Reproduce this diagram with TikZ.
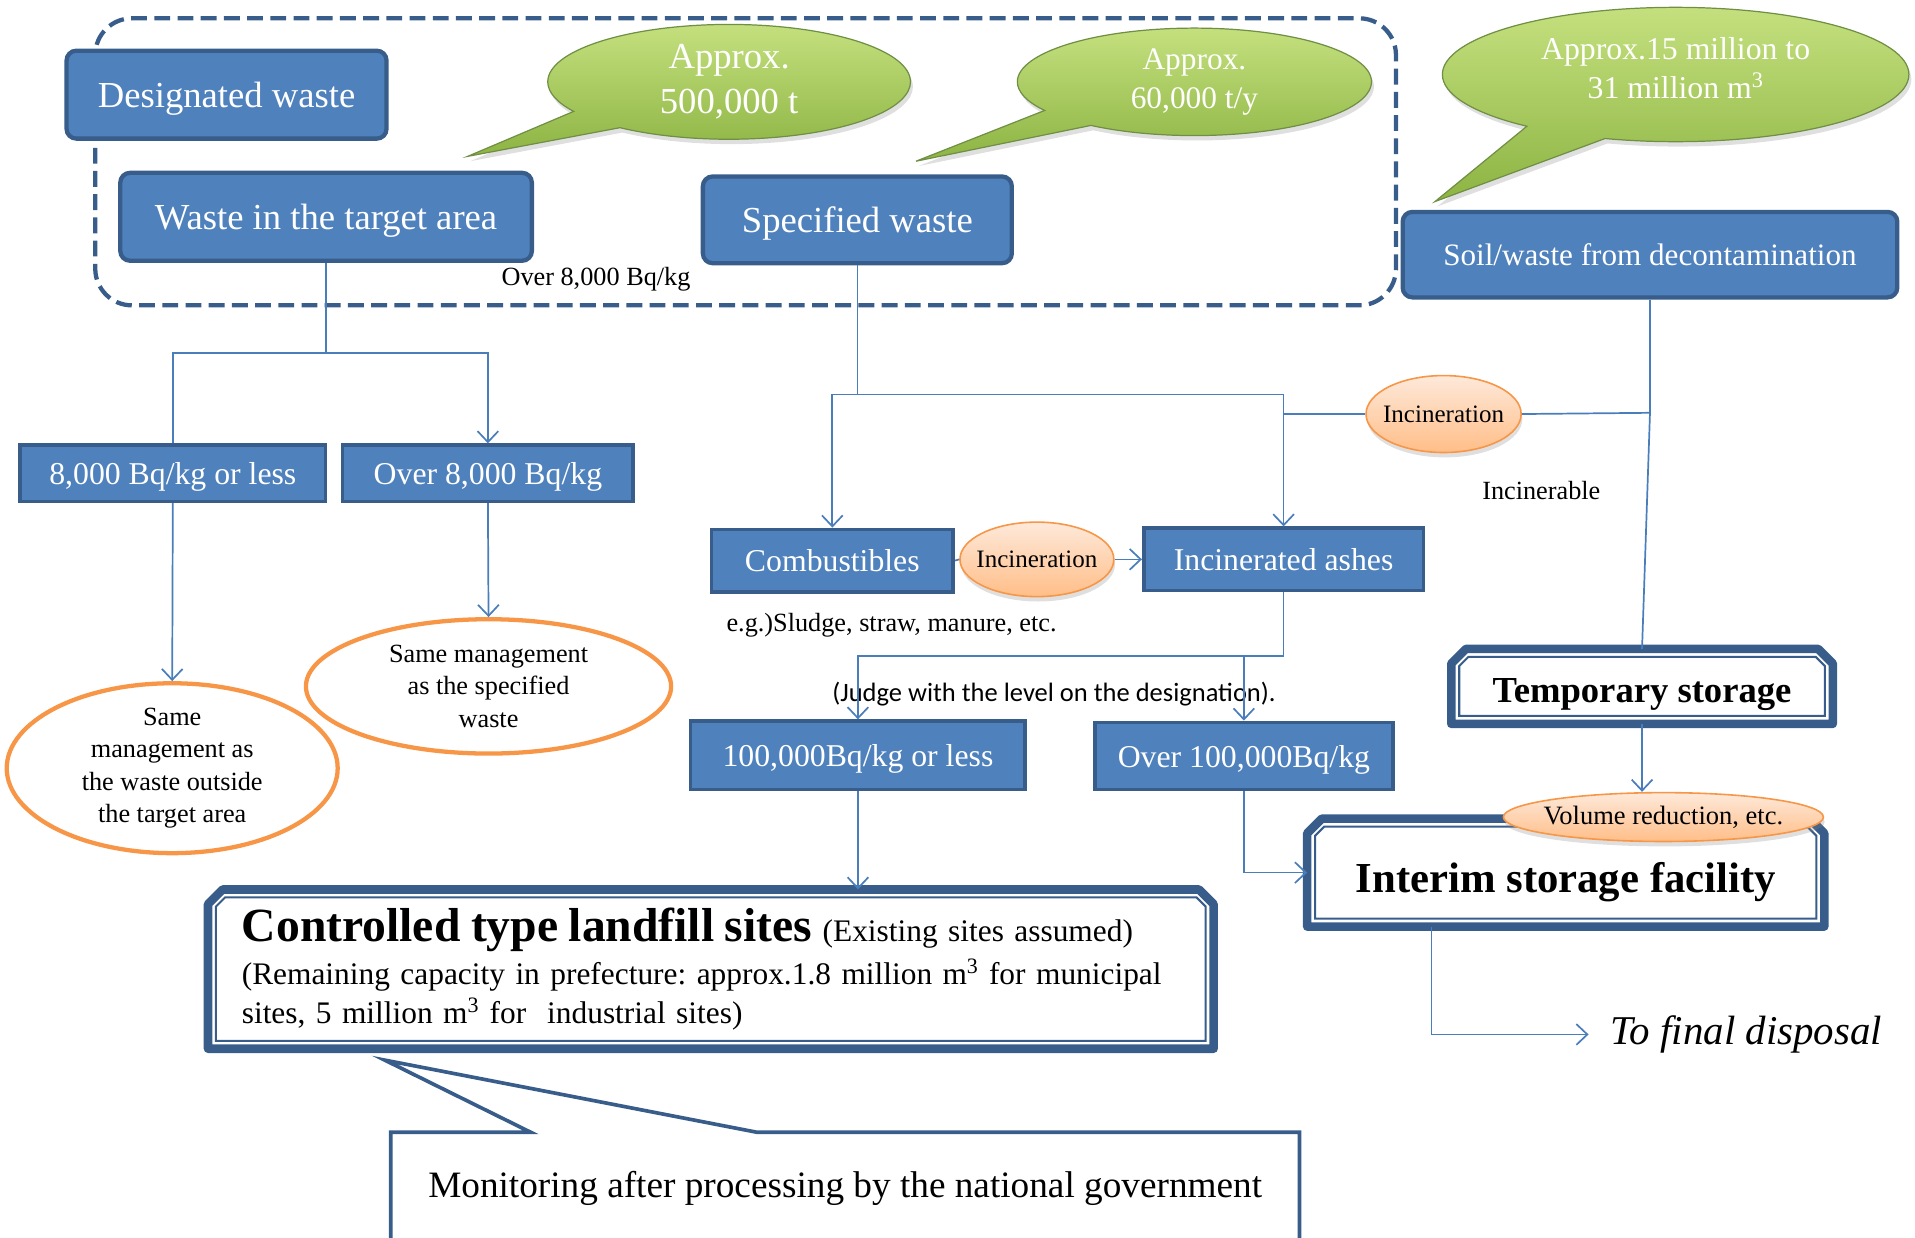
\documentclass[tikz,border=0pt]{standalone}
\usepackage{fontspec}
\setmainfont{Liberation Serif}
\newfontfamily\judgefont{Carlito}
\usetikzlibrary{shapes.geometric, shapes.callouts, arrows.meta, shadows, positioning}

\definecolor{boxfill}{HTML}{4F81BD}
\definecolor{boxline}{HTML}{385D8A}
\definecolor{linkblue}{HTML}{4A7EBB}
\definecolor{careorange}{HTML}{F79646}
\definecolor{peachtop}{HTML}{FEE9DA}
\definecolor{peachbot}{HTML}{FFBE88}
\definecolor{olivetop}{HTML}{C4E07E}
\definecolor{olivebot}{HTML}{8DB443}
\definecolor{oliveline}{HTML}{6F8F45}

\newcommand{\setfs}[2]{\fontsize{#1pt}{#2pt}\selectfont}

\tikzstyle{boxWaste} = [rectangle, rounded corners=8pt, draw=boxline, line width=3.5pt, fill=boxfill, text=white, inner sep=0pt, text depth=0pt, font=\setfs{30}{36}]
\tikzstyle{boxLevel} = [rectangle, draw=boxline, line width=3pt, fill=boxfill, text=white, inner sep=0pt, text depth=0pt, font=\setfs{26}{30}]
\tikzstyle{ovalCare} = [ellipse, draw=careorange, line width=3.5pt, fill=white, align=center, inner sep=0pt, font=\setfs{21.5}{26.5}]
\tikzstyle{ovalProcess} = [ellipse, draw=careorange, line width=1.3pt, top color=peachtop, bottom color=peachbot, inner sep=0pt, inner xsep=-14pt, font=\setfs{20.5}{24}, drop shadow={shadow xshift=1pt, shadow yshift=-4pt, opacity=.25}]
\tikzstyle{bubbleAmount} = [ellipse callout, callout pointer arc=22, draw=oliveline, line width=1pt, top color=olivetop, bottom color=olivebot, text=white, align=center, inner sep=0pt, drop shadow={shadow xshift=2pt, shadow yshift=-4pt, opacity=.25}]
\tikzstyle{boxStore} = [rectangle, inner sep=0pt, text depth=0pt, font=\bfseries]
\tikzstyle{plainText} = [inner sep=0pt, font=\setfs{21.5}{26}]
\tikzstyle{link} = [draw=linkblue, line width=1.4pt]
\tikzstyle{arrow} = [link, -{Straight Barb[length=9pt, width=17pt]}]

\newcommand{\storeband}[1]{%
\draw[boxline, line width=7pt, line join=round] (#1.south west) -- ([yshift=-12pt]#1.north west) -- ([xshift=12pt]#1.north west) -- ([xshift=-12pt]#1.north east) -- ([yshift=-12pt]#1.north east) -- (#1.south east) -- cycle;
\draw[boxline, line width=1.7pt] ([shift={(6.5pt,6.5pt)}]#1.south west) -- ([shift={(6.5pt,-14pt)}]#1.north west) -- ([shift={(14pt,-6.5pt)}]#1.north west) -- ([shift={(-14pt,-6.5pt)}]#1.north east) -- ([shift={(-6.5pt,-14pt)}]#1.north east) -- ([shift={(-6.5pt,6.5pt)}]#1.south east) -- cycle;
}

\begin{document}
\frenchspacing
\begin{tikzpicture}[x=1pt, y=-1pt]
\useasboundingbox (0,0) rectangle (1568,1013);
\clip (0,0) rectangle (1568,1013);

\draw[boxline, line width=3.5pt, rounded corners=30pt, dash pattern=on 13pt off 6pt] (78,15) rectangle (1143,250);

\node (designated) [boxWaste, minimum width=262, minimum height=72] at (185.5,77.5) {Designated waste};
\node (targetwaste) [boxWaste, minimum width=337, minimum height=72] at (267,177.5) {Waste in the target area};
\node (specwaste) [boxWaste, minimum width=253, minimum height=71] at (702,180) {Specified waste};
\node (soilwaste) [boxWaste, minimum width=405, minimum height=70, font=\setfs{25.5}{30}] at (1351,208.5) {Soil/waste from decontamination};

\node (amtdesig) [bubbleAmount, minimum width=297, minimum height=94, font=\setfs{30}{37}, callout absolute pointer={(383,128)}] at (597,67) {Approx.\\500,000 t};
\node (amtspec) [bubbleAmount, minimum width=290, minimum height=88, font=\setfs{25.7}{32}, callout absolute pointer={(750,132)}] at (978,67) {Approx.\\60,000 t/y};
\node (amtsoil) [bubbleAmount, minimum width=382, minimum height=110, font=\setfs{26}{32}, callout absolute pointer={(1175,165)}] at (1372,61) {Approx.15 million to\\31 million m\textsuperscript{3}\par\vspace*{10pt}};

\node (overlabel) [plainText] at (488,229) {Over 8,000 Bq/kg};

\node (lowlevel) [boxLevel, minimum width=250, minimum height=46] at (141.5,387.5) {8,000 Bq/kg or less};
\node (highlevel) [boxLevel, minimum width=238, minimum height=46] at (399.5,387.5) {Over 8,000 Bq/kg};

\node (outsidecare) [ovalCare, minimum width=271, minimum height=131] at (141,629) {Same\\management as\\the waste outside\\the target area};
\node (specifiedcare) [ovalCare, minimum width=299, minimum height=110] at (400,562) {Same management\\as the specified\\waste};

\node (combustibles) [boxLevel, minimum width=198, minimum height=51] at (681.5,459) {Combustibles};
\node (burncomb) [ovalProcess, minimum width=126, minimum height=61] at (849,458) {Incineration};
\node (ashes) [boxLevel, minimum width=229, minimum height=51] at (1051,458) {Incinerated ashes};
\node (burnsoil) [ovalProcess, minimum width=127, minimum height=63] at (1182,339) {Incineration};
\node (incinerable) [plainText] at (1262,402) {Incinerable};
\node (examples) [plainText] at (730,512) {e.g.)Sludge, straw, manure, etc.};
\node (judge) [plainText, font=\judgefont\setfs{21.7}{26}] at (863,568) {(Judge with the level on the designation).};

\node (lowashes) [boxLevel, minimum width=274, minimum height=56] at (702.5,618.5) {100,000Bq/kg or less};
\node (highashes) [boxLevel, minimum width=244, minimum height=55] at (1018.5,619) {Over 100,000Bq/kg};

\node (tempstorage) [boxStore, text height=27pt, minimum width=312, minimum height=61, font=\bfseries\setfs{30}{36}] at (1344.5,562) {Temporary storage};
\storeband{tempstorage}

\node (interim) [boxStore, text height=33pt, minimum width=423, minimum height=88, font=\bfseries\setfs{35}{40}] at (1282,714.5) {Interim storage facility};
\storeband{interim}
\node (volred) [ovalProcess, inner xsep=-30pt, minimum width=262, minimum height=40, font=\setfs{21.7}{24}] at (1362,669) {Volume reduction, etc.};

\node (finaldisp) [inner sep=0pt, font=\itshape\setfs{33.5}{40}] at (1430,847) {To final disposal};

\node (landfill) [rectangle, inner sep=0pt, minimum width=823, minimum height=130, text width=800, align=left, font=\setfs{25.7}{32}] at (582,793.5) {\hspace*{16pt}{\bfseries\setfs{39}{40}Controlled type landfill sites} (Existing sites assumed)\\[3pt]
\hspace*{16pt}(Remaining capacity in prefecture: approx.1.8 million m\textsuperscript{3} for municipal\\
\hspace*{16pt}sites, 5 million m\textsuperscript{3} for\ \ industrial sites)\par\vspace*{14pt}};
\storeband{landfill}

\node (monitor) [rectangle callout, draw=boxline, line width=3pt, fill=white, minimum width=744, minimum height=92, callout absolute pointer={(315,868)}, callout pointer width=185pt, font=\setfs{30.5}{36}] at (692,973) {Monitoring after processing by the national government};

\coordinate (splitarea) at (267,289);
\draw[link] (targetwaste.south) -- (splitarea);
\draw[link] (splitarea) -| (lowlevel.north);
\draw[arrow] (splitarea) -| (highlevel.north);
\draw[arrow] (lowlevel.south) -- (outsidecare.north);
\draw[arrow] (highlevel.south) -- (specifiedcare.north);

\coordinate (splitspec) at (702,323);
\draw[link] (specwaste.south) -- (splitspec);
\draw[arrow] (splitspec) -| (combustibles.north);
\draw[arrow] (splitspec) -| (ashes.north);

\coordinate (splitsoil) at (1351,338);
\draw[link] (soilwaste.south) -- (splitsoil);
\draw[link] (splitsoil) -- (burnsoil.east);
\draw[link] (burnsoil.west) -- (burnsoil.west -| ashes.north);
\draw[link] (splitsoil) -- (tempstorage.north);

\draw[link] (combustibles.east) -- (burncomb.west);
\draw[arrow] (burncomb.east) -- (ashes.west);

\coordinate (splitashes) at (1051,537);
\draw[link] (ashes.south) -- (splitashes);
\draw[arrow] (splitashes) -| (lowashes.north);
\draw[arrow] (highashes.north |- splitashes) -- (highashes.north);

\draw[arrow] (lowashes.south) -- (lowashes.south |- landfill.north);
\draw[arrow] (highashes.south) |- (interim.west);
\draw[arrow] (tempstorage.south) -- (tempstorage.south |- volred.north);
\draw[arrow] ([xshift=-110pt]interim.south) |- ([xshift=-18pt]finaldisp.west);

\end{tikzpicture}
\end{document}
